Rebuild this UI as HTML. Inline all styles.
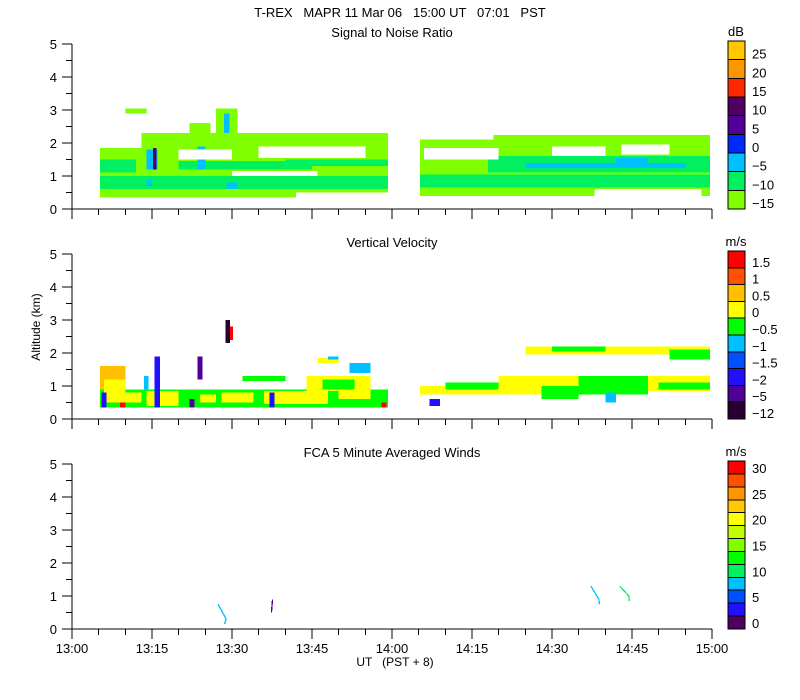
<!DOCTYPE html>
<html><head><meta charset="utf-8"><style>
body{margin:0;background:#fff}
svg{display:block;font-family:"Liberation Sans",sans-serif}
text{fill:#000;font-size:13px;white-space:pre}
</style></head><body>
<svg id="c" width="800" height="700" xmlns="http://www.w3.org/2000/svg" shape-rendering="crispEdges" xml:space="preserve">
<text x="400" y="17" text-anchor="middle">T-REX   MAPR 11 Mar 06   15:00 UT   07:01   PST</text>
<text x="50" y="337" text-anchor="middle" transform="rotate(-90 40 337)" style="font-size:12px">Altitude (km)</text>
<text x="395" y="666" text-anchor="middle" style="font-size:12px">UT   (PST + 8)</text>
</svg>
<script>
const panelTitles=["Signal to Noise Ratio","Vertical Velocity","FCA 5 Minute Averaged Winds"];
const panelUnits=["dB","m/s","m/s"];
const cbColors1=["#ffc800","#ff9600","#ff2800","#500060","#500096","#0028ff","#00c0ff","#00f060","#80ff00"];
const cbLabels1=["25","20","15","10","5","0","\u22125","\u221210","\u221215"];
const cbColors2=["#ff0000","#ff5000","#ffc000","#ffff00","#00ff00","#00c0ff","#0050ff","#2010ff","#500096","#280030"];
const cbLabels2=["1.5","1","0.5","0","\u22120.5","\u22121","\u22121.5","\u22122","\u22125","\u221212"];
const cbColors3=["#ff0000","#ff5000","#ff9600","#ffc800","#ffff00","#c0ff00","#80ff00","#00ff00","#00f060","#00c0ff","#0050ff","#2010ff","#500060"];
const cbLabels3=["30","","25","","20","","15","","10","","5","","0"];
const xTickLabels=["13:00","13:15","13:30","13:45","14:00","14:15","14:30","14:45","15:00"];
const yTickLabels=["0","1","2","3","4","5"];
// cells: [startMin, endMin, lowKm, highKm, colorIndex]
const snrCells=[
[5.25,59.25,0.35,1.85,8],[13,59.25,1.85,2.3,8],[22,26,2.2,2.6,8],[27,31,2.2,3.05,8],[10,14,2.9,3.05,8],
[5.25,12,1.1,1.5,7],[5.25,59.25,0.6,1.0,7],[20,45,1.2,1.45,7],[40,59.25,1.3,1.5,7],
[14,16,1.2,1.8,6],[15.2,15.8,1.2,1.85,3],[23.5,25,1.2,1.9,6],[28.5,29.5,2.3,2.9,6],[14,15,0.7,0.9,6],[29,31,0.6,0.8,6],
[30,46,1.0,1.15,-1],[20,30,1.5,1.8,-1],[35,55,1.55,1.9,-1],[42,59.25,0.35,0.5,-1],
[65.25,119.6,0.4,2.1,8],[79,119.6,2.1,2.25,8],
[65.25,119.6,0.65,1.05,7],[78,119.6,1.1,1.6,7],[85,115,1.25,1.4,6],[102,108,1.4,1.55,6],
[66,80,1.5,1.85,-1],[90,100,1.6,1.9,-1],[103,112,1.65,1.95,-1],[98,118,0.4,0.6,-1]
];
const velCells=[
[5.25,59.25,0.35,0.9,4],[5.25,10,0.9,1.6,2],[6,10,0.5,1.2,3],[10,13,0.5,0.8,3],[14,20,0.4,0.85,3],[24,27,0.5,0.75,3],[28,34,0.5,0.8,3],[36,48,0.45,0.85,3],[50,56,0.6,0.85,3],
[44,56,0.85,1.3,3],[47,53,0.9,1.2,4],[32,40,1.15,1.3,4],[52,56,1.4,1.7,5],[46,50,1.7,1.85,3],[48,50,1.8,1.9,5],
[5.5,6.5,0.35,0.8,7],[15.5,16.5,0.35,1.9,7],[13.5,14.3,0.9,1.3,5],[23.5,24.5,1.2,1.9,8],[28.8,29.6,2.3,3.0,9],[29.6,30.2,2.4,2.8,0],[37,38,0.35,0.8,7],[22,23,0.35,0.6,8],[9,10,0.35,0.5,0],[58,59,0.35,0.5,0],
[65.25,100,0.75,1.0,3],[80,119.6,0.85,1.3,3],[88,95,0.6,1.0,4],[95,108,0.75,1.3,4],[110,119.6,0.9,1.1,4],[70,80,0.9,1.1,4],[100,102,0.5,0.8,5],[67,69,0.4,0.6,7],
[85,119.6,1.95,2.2,3],[90,100,2.05,2.2,4],[112,119.6,1.8,2.1,4]
];
const windLines=[
{color:"#00c0ff",pts:[[27.4,0.75],[28.9,0.3],[28.6,0.15]]},
{color:"#500096",pts:[[37.6,0.9],[37.4,0.5]]},
{color:"#00c0ff",pts:[[97.3,1.3],[98.8,0.9],[98.9,0.75]]},
{color:"#00f060",pts:[[102.7,1.3],[104.4,1.0],[104.5,0.85]]}
];
const panels=[{bottom:209},{bottom:419},{bottom:629}];
const X=m=>72+m*640/120;
const KM=33;
const svg=document.getElementById('c');
const NS="http://www.w3.org/2000/svg";
function mk(t,a,p){const e=document.createElementNS(NS,t);for(const k in a)e.setAttribute(k,a[k]);(p||svg).appendChild(e);return e;}
function Yf(b){return z=>b-z*KM;}
const cbs=[[cbColors1,cbLabels1],[cbColors2,cbLabels2],[cbColors3,cbLabels3]];
panels.forEach((p,i)=>{
 const Y=Yf(p.bottom);
 const g=mk('g',{});
 
 
 const cells=i===0?snrCells:i===1?velCells:[];
 const cols=i===0?cbColors1:cbColors2;
 cells.forEach(c=>{
  const r=mk('rect',{x:X(c[0]),y:Y(c[3]),width:X(c[1])-X(c[0]),height:(c[3]-c[2])*KM,fill:c[4]<0?'#fff':cols[c[4]]},g);
  
  
 });
 if(i===2){windLines.forEach(l=>{
  const pl=mk('polyline',{points:l.pts.map(q=>X(q[0])+','+Y(q[1])).join(' '),fill:'none',stroke:l.color,'stroke-width':1.3},g);
  
  
 });}
 const t=mk('text',{x:392,y:p.bottom-172,'text-anchor':'middle'},g);t.textContent=panelTitles[i];
 
 
 mk('line',{x1:72,y1:Y(0),x2:72,y2:Y(5),stroke:'#000'},g);
 mk('line',{x1:72,y1:Y(0),x2:712,y2:Y(0),stroke:'#000'},g);
 for(let k=0;k<=10;k++){const y=Y(k/2);mk('line',{x1:k%2?66:62,y1:y,x2:72,y2:y,stroke:'#000'},g);}
 yTickLabels.forEach((l,k)=>{const e=mk('text',{x:57,y:Y(k)+5,'text-anchor':'end'},g);e.textContent=l;
  
  });
 for(let k=0;k<=24;k++){const x=X(k*5);mk('line',{x1:x,y1:Y(0),x2:x,y2:Y(0)+(k%3?6:10),stroke:'#000'},g);}
 if(i===2)xTickLabels.forEach((l,k)=>{const e=mk('text',{x:X(k*15),y:653,'text-anchor':'middle'},g);e.textContent=l;
  
  });
 const [cc,cl]=cbs[i];const top=p.bottom-168,h=168/cc.length;
 const cb=mk('g',{},g);
 
 
 cc.forEach((c,k)=>{mk('rect',{x:728,y:top+k*h,width:17,height:h,fill:c,stroke:'#000'},cb);
  if(cl[k]){const e=mk('text',{x:752,y:top+(k+1)*h-1,'text-anchor':'start'},cb);e.textContent=cl[k];}});
 const u=mk('text',{x:736,y:top-5,'text-anchor':'middle'},cb);u.textContent=panelUnits[i];
});
</script>
</body></html>
